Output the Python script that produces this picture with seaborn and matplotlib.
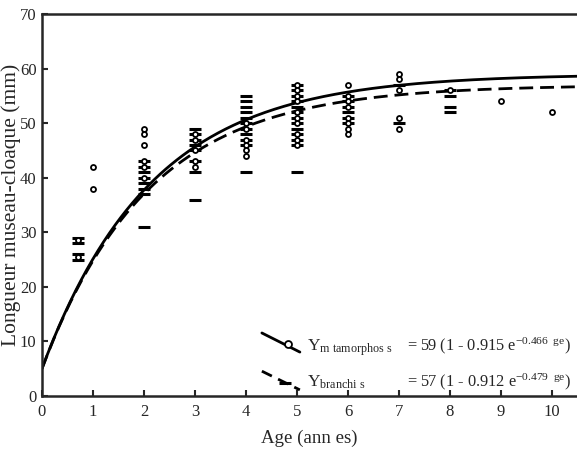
import numpy as np
import pandas as pd
import seaborn as sns
import matplotlib
matplotlib.use("Agg")
import matplotlib.pyplot as plt

# ---- data ----
meta_age = [0.7, 0.7, 1, 1,
            2, 2, 2, 2, 2, 2,
            3, 3, 3, 3, 3,
            4, 4, 4, 4, 4, 4,
            5, 5, 5, 5, 5, 5, 5, 5, 5, 5,
            6, 6, 6, 6, 6, 6, 6, 6,
            7, 7, 7, 7, 7,
            8, 9, 10]
meta_svl = [28.5, 25.5, 42, 38,
            49, 48, 46, 43, 42, 40,
            48, 47, 45, 43, 42,
            50, 49, 47, 46, 45, 44,
            57, 56, 55, 54, 52, 51, 50, 48, 47, 46,
            57, 55, 54, 53, 51, 50, 49, 48,
            59, 58, 56, 51, 49,
            56, 54, 52]

branch_age = [0.7, 0.7, 0.7, 0.7,
              2, 2, 2, 2, 2, 2, 2, 2,
              3, 3, 3, 3, 3, 3, 3, 3,
              4, 4, 4, 4, 4, 4, 4, 4, 4, 4, 4,
              5, 5, 5, 5, 5, 5, 5, 5, 5, 5, 5, 5, 5,
              6, 6, 6, 6, 6, 6,
              7, 7,
              8, 8, 8, 8]
branch_svl = [29, 28, 26, 25,
              43, 42, 41, 40, 39, 38, 37, 31,
              49, 48, 47, 46, 45, 43, 41, 36,
              55, 54, 53, 52, 51, 50, 49, 48, 47, 46, 41,
              57, 56, 55, 54, 53, 52, 51, 50, 49, 48, 47, 46, 41,
              55, 54, 53, 52, 51, 50,
              57, 50,
              56, 55, 53, 52]

# von Bertalanffy parameters from the legend
meta_params = (59, 0.915, 0.466)
branch_params = (57, 0.912, 0.479)

x_ticks = [0, 1, 2, 3, 4, 5, 6, 7, 8, 9, 10]
y_ticks = [0, 10, 20, 30, 40, 50, 60, 70]

sns.set_style("ticks")
plt.rcParams['font.family'] = ['Liberation Serif', 'DejaVu Serif']
plt.rcParams['mathtext.fontset'] = 'custom'
plt.rcParams['mathtext.rm'] = 'Liberation Serif'
plt.rcParams['mathtext.it'] = 'Liberation Serif:italic'

fig = plt.figure(figsize=(5.77, 4.58), dpi=100)
ax = fig.add_axes([42/577, 1 - 396/458, 1 - 42/577, (396 - 14)/458])

ages = np.linspace(0, 11, 300)
def vb(p, t):
    L, b, k = p
    return L * (1 - b * np.exp(-k * t))

curves = pd.DataFrame({"age": ages, "meta": vb(meta_params, ages), "branch": vb(branch_params, ages)})
sns.lineplot(data=curves, x="age", y="meta", ax=ax, color="black", lw=2.0)
sns.lineplot(data=curves, x="age", y="branch", ax=ax, color="black", lw=2.0,
             linestyle=(0, (5, 2.5)))

dfm = pd.DataFrame({"age": meta_age, "svl": meta_svl})
dfb = pd.DataFrame({"age": branch_age, "svl": branch_svl})
sns.scatterplot(data=dfb, x="age", y="svl", ax=ax, marker="_", s=64,
                color="black", linewidth=2.2, zorder=3)
sns.scatterplot(data=dfm, x="age", y="svl", ax=ax, marker="o", s=13,
                facecolor="white", edgecolor="black", linewidth=1.3, zorder=4)

ax.set_xlim(0, 535/51)
ax.set_ylim(0, 70)
ax.set_xticks(x_ticks)
ax.set_yticks(y_ticks)
ax.tick_params(direction="in", length=4, width=1.5, labelsize=12)
ax.tick_params(axis="x", pad=6)
ax.tick_params(axis="y", pad=4)
for s in ["left", "bottom", "top"]:
    ax.spines[s].set_linewidth(1.8)
ax.spines["right"].set_visible(False)
ax.set_xlabel("Age (ann es)", fontsize=13.6, labelpad=7)
ax.set_ylabel("Longueur museau-cloaque (mm)", fontsize=15.5)
ax.yaxis.set_label_coords(-0.040, 0.5)

# legend drawn as annotation
tr = ax.transAxes
ax.plot([0.411, 0.482], [0.165, 0.115], transform=tr, color="black", lw=2.0)
ax.plot([0.46], [0.136], transform=tr, marker="o", ms=5, mfc="white", mec="black", mew=1.3)
ax.plot([0.411, 0.482], [0.065, 0.016], transform=tr, color="black", lw=2.0,
        linestyle=(0, (4, 2.5)))
ax.plot([0.454], [0.034], transform=tr, marker="_", ms=8, mew=2.2, color="black")

fs = 11.8
ax.text(0.495, 0.12, r"$\mathrm{Y}_{\mathrm{m\ tamorphos\ s}}$", transform=tr, fontsize=fs + 0.7, va="baseline")
ax.text(0.682, 0.12, r"= 59 (1 - 0.915 e$^{\mathrm{-0.466\ \ ge}}$)", transform=tr, fontsize=fs, va="baseline")
ax.text(0.495, 0.024, r"$\mathrm{Y}_{\mathrm{branchi\ s}}$", transform=tr, fontsize=fs + 0.7, va="baseline")
ax.text(0.682, 0.024, r"= 57 (1 - 0.912 e$^{\mathrm{-0.479\ \ ge}}$)", transform=tr, fontsize=fs, va="baseline")

fig.savefig("out.png", dpi=100)
